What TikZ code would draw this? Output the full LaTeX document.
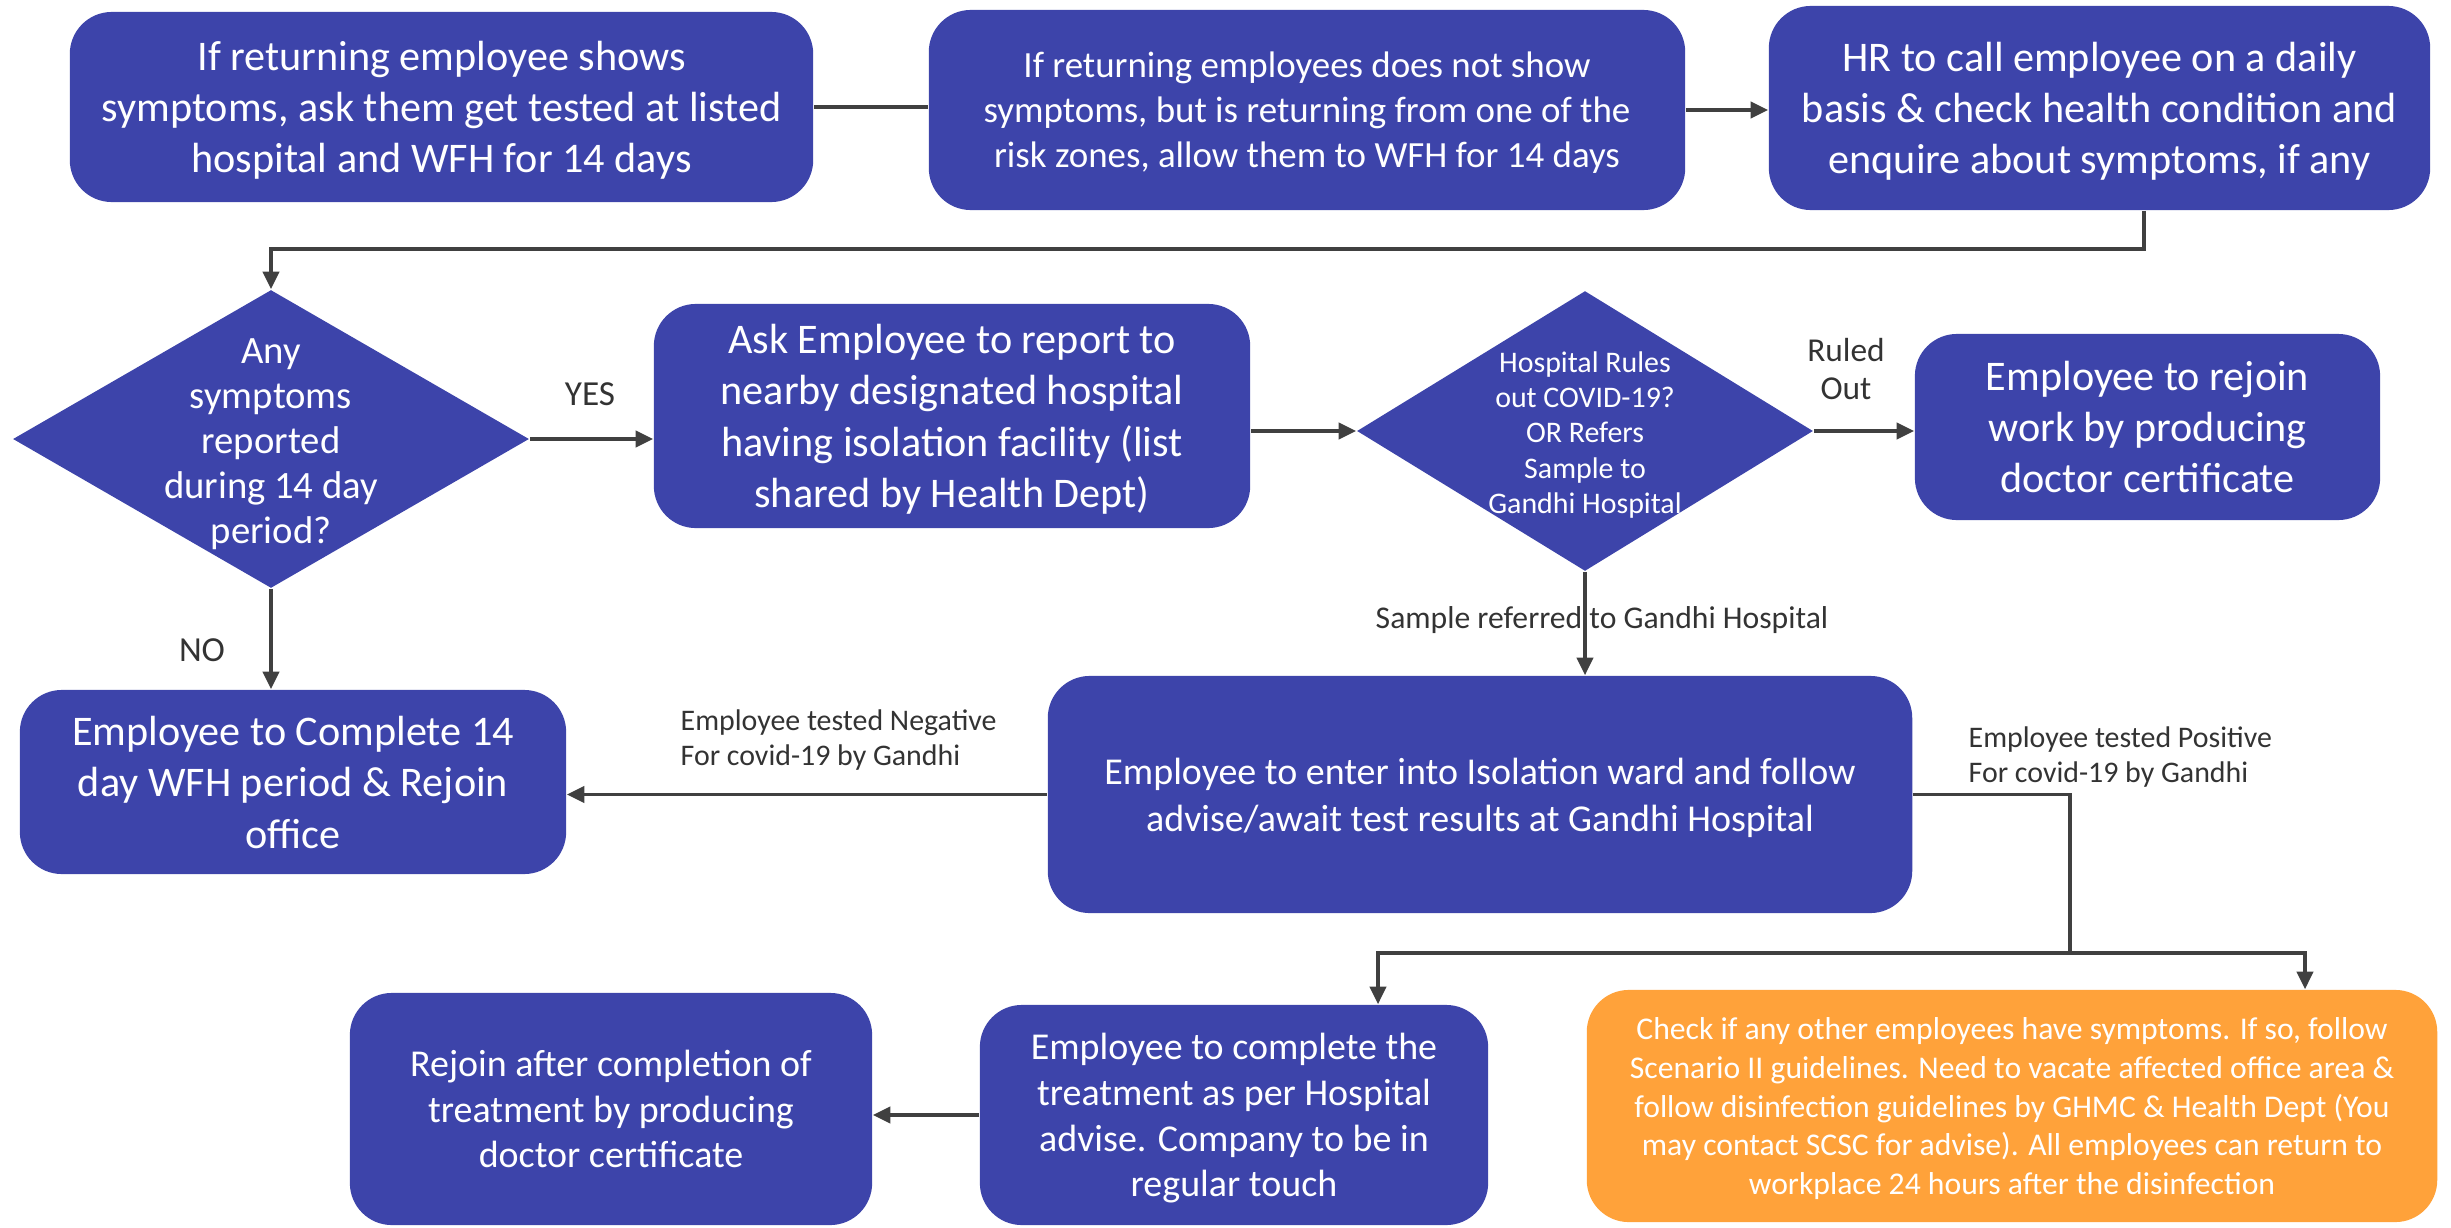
\documentclass[tikz,border=0pt]{standalone}
\usepackage{fontspec}
\setmainfont{Carlito}
\usetikzlibrary{shapes.geometric,arrows.meta}
\definecolor{boxblue}{RGB}{61,68,170}
\definecolor{boxorange}{RGB}{255,162,58}
\definecolor{linegray}{RGB}{64,64,64}
\definecolor{labelgray}{RGB}{51,51,51}
\newcommand{\myfs}[2]{\fontsize{#1}{#2}\selectfont}
\tikzset{
 box/.style={draw=none, fill=boxblue, rounded corners=0.42cm, text=white, align=center, inner sep=0pt, text depth=0pt},
 obox/.style={box, fill=boxorange},
 dia/.style={diamond, fill=boxblue, inner sep=0pt},
 dtext/.style={text=white, align=center, inner sep=0pt},
 conn/.style={draw=linegray, line width=1pt},
 arr/.style={conn, -{Triangle[length=5pt,width=4.6pt]}},
 lab/.style={text=labelgray, inner sep=0pt},
}
\begin{document}
\begin{tikzpicture}[x=0.01cm,y=-0.01cm]
\useasboundingbox (0,0) rectangle (2451,1227);
% nodes
\node[box, minimum width=7.43cm, minimum height=1.90cm, font=\myfs{12}{14.6}] (b1) at (441.5,107) {If returning employee shows\\symptoms, ask them get tested at listed\\hospital and WFH for 14 days};
\node[box, minimum width=7.56cm, minimum height=2.00cm, font=\myfs{10.5}{12.8}] (b2) at (1307,110) {If returning employees does not show\\symptoms, but is returning from one of the\\risk zones, allow them to WFH for 14 days};
\node[box, minimum width=6.61cm, minimum height=2.04cm, font=\myfs{12}{14.6}] (hr) at (2099.5,108) {HR to call employee on a daily\\basis \& check health condition and\\enquire about symptoms, if any};
\node[dia, minimum width=5.16cm, minimum height=2.98cm] (d1) at (271,439) {};
\node[dtext, font=\myfs{11}{12.8}] (d1t) at (271,444) {Any\\symptoms\\reported\\during 14 day\\period?};
\node[box, minimum width=5.96cm, minimum height=2.24cm, font=\myfs{12}{14.6}] (ask) at (952,416) {Ask Employee to report to\\nearby designated hospital\\having isolation facility (list\\shared by Health Dept)};
\node[dia, minimum width=4.56cm, minimum height=2.80cm] (d2) at (1585,431) {};
\node[dtext, font=\myfs{8.5}{10}] (d2t) at (1585,435) {Hospital Rules\\out COVID-19?\\OR Refers\\Sample to\\Gandhi Hospital};
\node[box, minimum width=4.65cm, minimum height=1.86cm, font=\myfs{12}{14.6}] (rj) at (2147.5,427) {Employee to rejoin\\work by producing\\doctor certificate};
\node[box, minimum width=5.46cm, minimum height=1.84cm, font=\myfs{12}{14.6}] (wfh) at (293,782) {Employee to Complete 14\\day WFH period \& Rejoin\\office};
\node[box, minimum width=8.64cm, minimum height=2.37cm, font=\myfs{10.8}{13.4}] (iso) at (1480,794.5) {Employee to enter into Isolation ward and follow\\advise/await test results at Gandhi Hospital};
\node[box, minimum width=5.22cm, minimum height=2.32cm, font=\myfs{10.8}{13}] (rt) at (611,1109) {Rejoin after completion of\\treatment by producing\\doctor certificate};
\node[box, minimum width=5.08cm, minimum height=2.20cm, font=\myfs{10.8}{13}] (tr) at (1234,1115) {Employee to complete the\\treatment as per Hospital\\advise. Company to be in\\regular touch};
\node[obox, minimum width=8.50cm, minimum height=2.32cm, font=\myfs{9}{11}] (ob) at (2012,1106) {Check if any other employees have symptoms. If so, follow\\Scenario II guidelines. Need to vacate affected office area \&\\follow disinfection guidelines by GHMC \& Health Dept (You\\may contact SCSC for advise). All employees can return to\\workplace 24 hours after the disinfection};
% labels
\node[lab, font=\myfs{10}{12}] (lyes) at (590,394) {YES};
\node[lab, font=\myfs{9.5}{11}, align=center] (lruled) at (1846,369) {Ruled\\Out};
\node[lab, font=\myfs{10}{12}] (lno) at (202,650) {NO};
\node[lab, font=\myfs{9}{11}] (lsample) at (1602,620) {Sample referred to Gandhi Hospital};
\node[lab, font=\myfs{8.5}{9.7}, align=left, anchor=west] (lneg) at (680,740) {Employee tested Negative\\For covid-19 by Gandhi};
\node[lab, font=\myfs{8.5}{9.7}, align=left, anchor=west] (lpos) at (1968,757) {Employee tested Positive\\For covid-19 by Gandhi};
% connectors
\coordinate (c1) at (2144,249);
\coordinate (c2) at (271,249);
\coordinate (p1) at (2070,953);
\coordinate (p2) at (1378,953);
\coordinate (p3) at (2305,953);
\draw[conn] (b1.east) -- (b1.east -| b2.west);
\draw[arr] (b2.east) -- (b2.east -| hr.west);
\draw[arr] (hr.south -| c1) -- (c1) -- (c2) -- (d1.north);
\draw[arr] (d1.east) -- (d1.east -| ask.west);
\draw[arr] (d2.west -| ask.east) -- (d2.west);
\draw[arr] (d2.east) -- (d2.east -| rj.west);
\draw[arr] (d2.south) -- (d2.south |- iso.north);
\draw[arr] (d1.south) -- (d1.south |- wfh.north);
\draw[arr] (iso.west) -- (iso.west -| wfh.east);
\draw[conn] (iso.east) -| (p1);
\draw[arr] (p1) -- (p2) -- (p2 |- tr.north);
\draw[arr] (p1) -- (p3) -- (p3 |- ob.north);
\draw[arr] (tr.west) -- (tr.west -| rt.east);
\end{tikzpicture}
\end{document}
